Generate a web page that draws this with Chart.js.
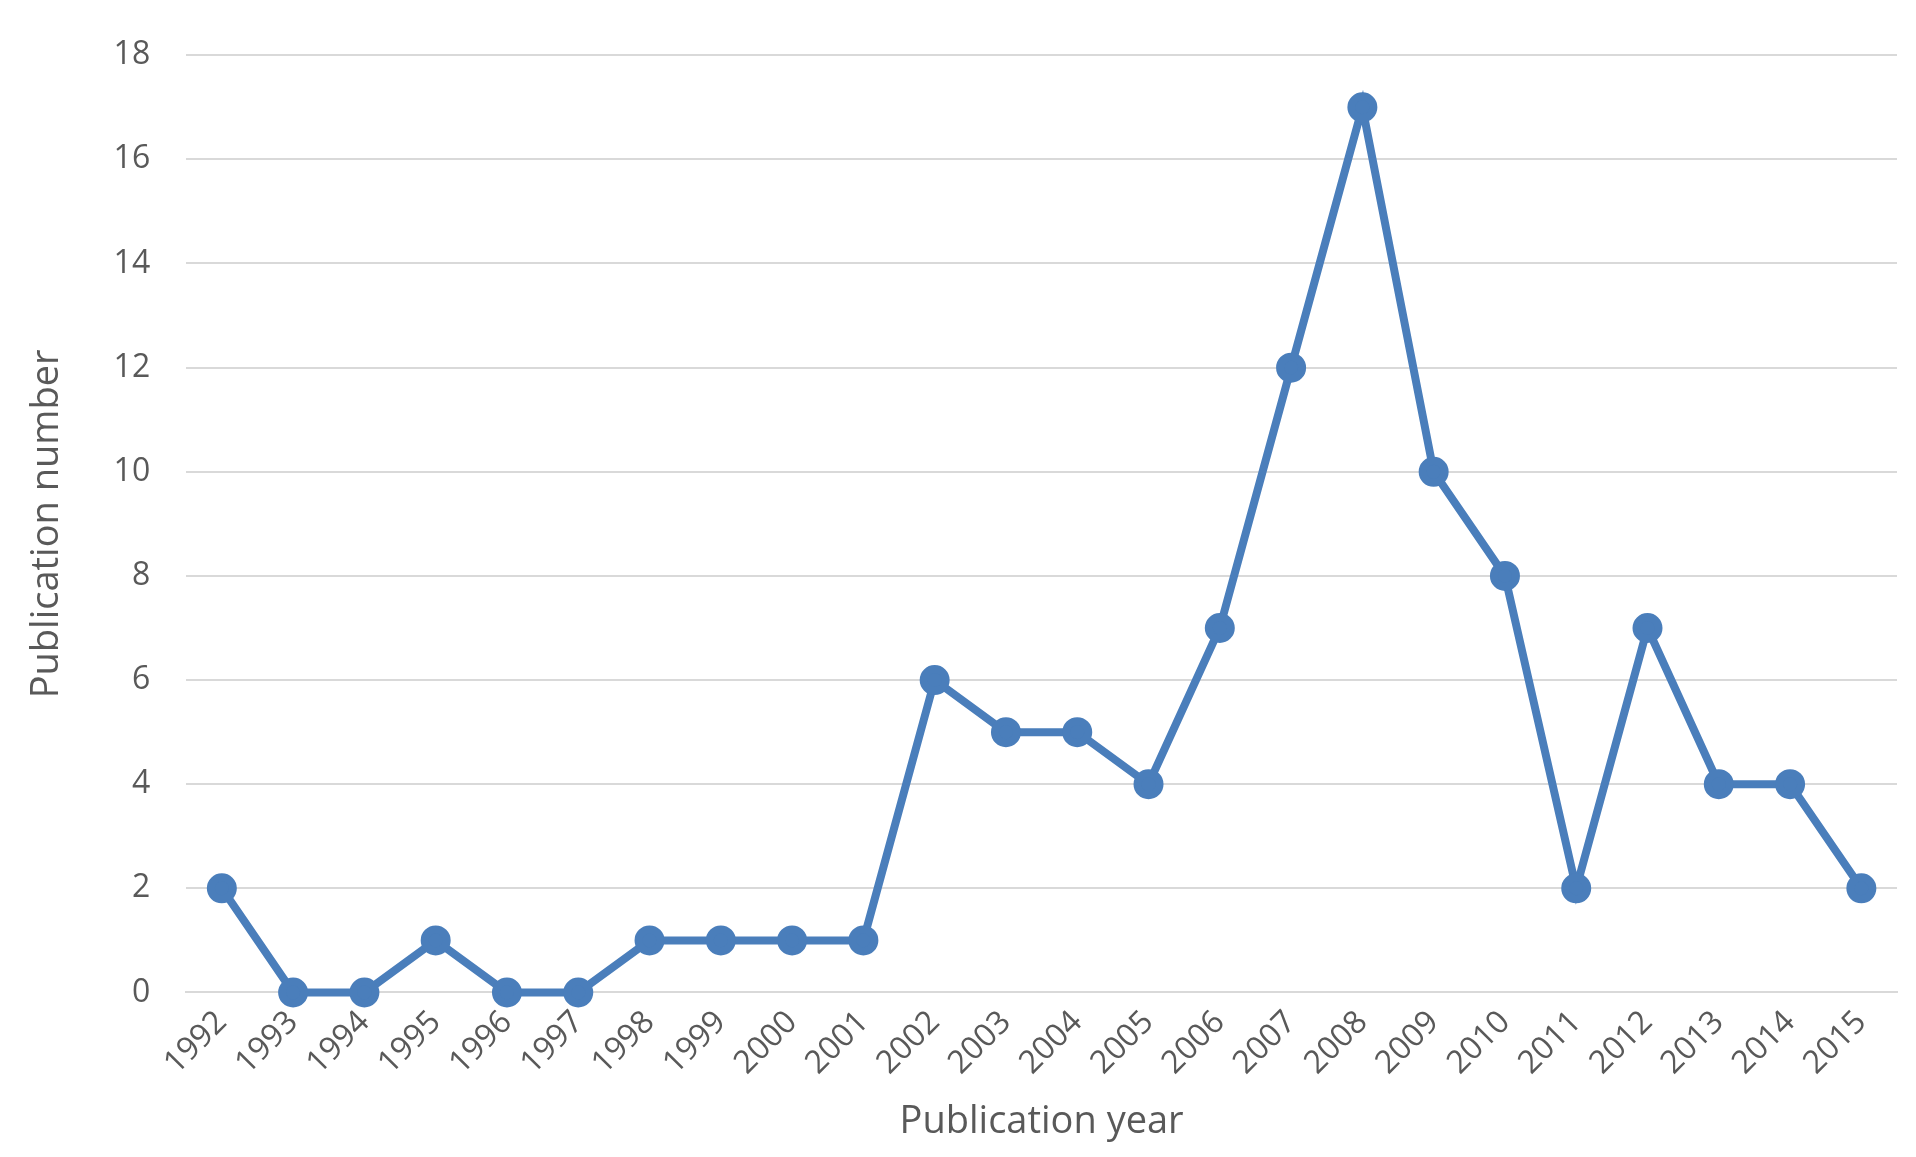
<!DOCTYPE html>
<html>
<head>
<meta charset="utf-8">
<script src="https://cdn.jsdelivr.net/npm/chart.js@4"></script>
<style>
  html, body { margin: 0; padding: 0; background: #fff; }
  #wrap { width: 1916px; height: 1157px; }
</style>
</head>
<body>
<div id="wrap"><canvas id="chart"></canvas></div>
<script>
// Chart data
const years = ['1992','1993','1994','1995','1996','1997','1998','1999','2000','2001','2002','2003',
               '2004','2005','2006','2007','2008','2009','2010','2011','2012','2013','2014','2015'];
const publications = [2,0,0,1,0,0,1,1,1,1,6,5,5,4,7,12,17,10,8,2,7,4,4,2];
const yTicks = [0,2,4,6,8,10,12,14,16,18];

const lineColor = '#4a7ebb';
const textColor = '#595959';
const fontFamily = '"Open Sans", "Noto Sans", sans-serif';

new Chart(document.getElementById('chart'), {
    type: 'line',
    data: {
        labels: years,
        datasets: [{
            data: publications,
            borderColor: lineColor,
            backgroundColor: lineColor,
            borderWidth: 8,
            pointRadius: 11,
            pointBackgroundColor: lineColor,
            pointBorderColor: lineColor,
            tension: 0,
            clip: false
        }]
    },
    options: {
        responsive: true,
        maintainAspectRatio: false,
        animation: false,
        layout: { padding: { left: 20, right: 0, top: 6, bottom: 8 } },
        plugins: { legend: { display: false }, tooltip: { enabled: false } },
        scales: {
            x: {
                offset: true,
                grid: { display: false },
                border: { color: '#d9d9d9', width: 2 },
                ticks: {
                    color: textColor,
                    font: { family: fontFamily, size: 32 },
                    maxRotation: 45,
                    minRotation: 45,
                    autoSkip: false
                },
                title: {
                    display: true,
                    text: 'Publication year',
                    color: textColor,
                    font: { family: fontFamily, size: 38 },
                    padding: { top: 14 }
                }
            },
            y: {
                min: 0,
                max: 18,
                afterBuildTicks: axis => { axis.ticks = yTicks.map(v => ({ value: v })); },
                grid: { color: '#d9d9d9', lineWidth: 2, drawTicks: false },
                border: { display: false },
                ticks: {
                    color: textColor,
                    padding: 36,
                    font: { family: fontFamily, size: 32 }
                },
                title: {
                    display: true,
                    text: 'Publication number',
                    color: textColor,
                    font: { family: fontFamily, size: 38 },
                    padding: { bottom: 8 }
                }
            }
        }
    }
});
</script>
</body>
</html>
